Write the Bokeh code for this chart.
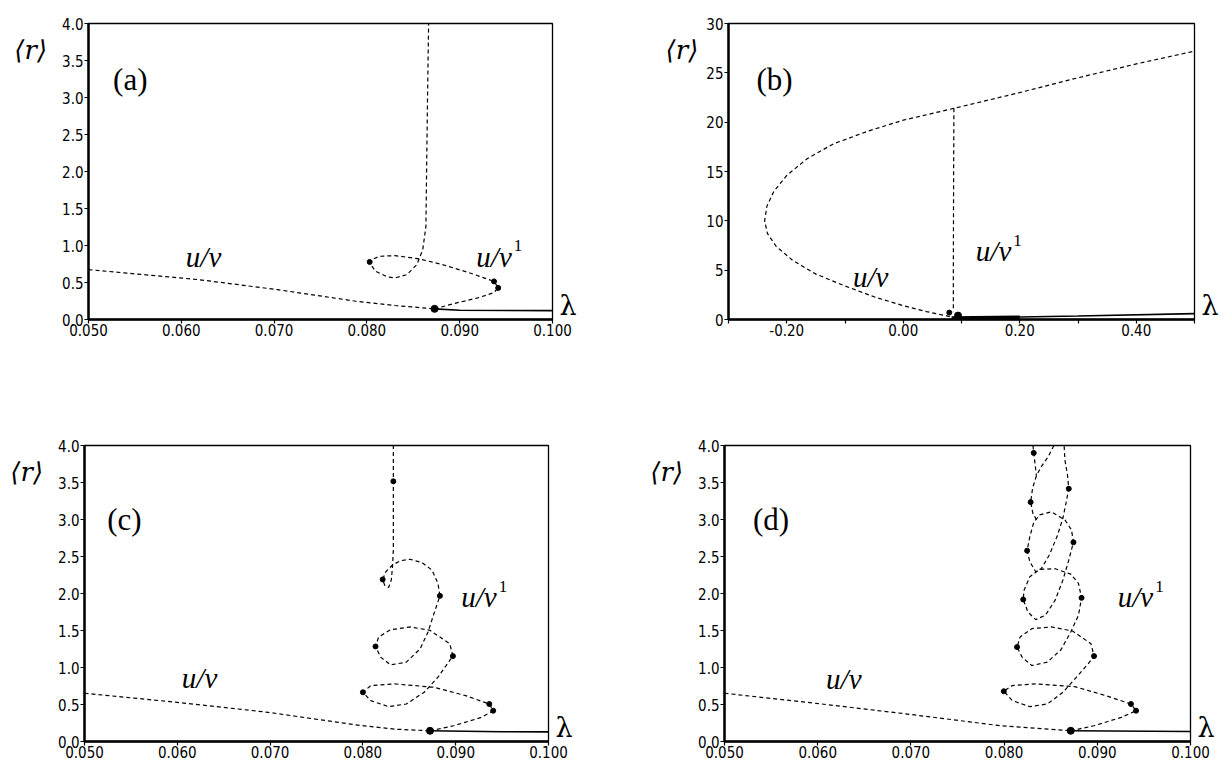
from bokeh.plotting import figure
from bokeh.layouts import column, row
from bokeh.models import Range1d, FixedTicker, PrintfTickFormatter, Label, LinearAxis
from bokeh.embed import file_html
from bokeh.resources import INLINE

# ---------------- data ----------------
# panel (a)
a_uv_lam = [0.05, 0.06186, 0.07034, 0.07881, 0.08305, 0.08729]
a_uv_r = [0.674, 0.539, 0.404, 0.247, 0.189, 0.144]
a_uv1_lam = [0.08729, 0.08941, 0.09195, 0.09364, 0.09415, 0.0937, 0.0911, 0.08814, 0.08568,
             0.08305, 0.08136, 0.08051, 0.0803, 0.08093, 0.0822, 0.08305, 0.08432, 0.08538,
             0.08602, 0.08636, 0.08644, 0.08653, 0.08665]
a_uv1_r = [0.144, 0.216, 0.292, 0.360, 0.427, 0.515, 0.629, 0.742, 0.818,
           0.863, 0.854, 0.809, 0.764, 0.652, 0.575, 0.562, 0.607, 0.742,
           0.944, 1.258, 2.067, 2.966, 4.0]
a_solid_lam = [0.08729, 0.0900, 0.1]
a_solid_r = [0.144, 0.125, 0.12]
a_pts_lam = [0.08729, 0.0937, 0.09415, 0.0803]
a_pts_r = [0.144, 0.515, 0.427, 0.778]

# panel (b)
b_uv_lam = [0.08, 0.04, 0.0, -0.05, -0.1, -0.15, -0.19, -0.218, -0.233, -0.238, -0.234,
            -0.222, -0.2, -0.165, -0.12, -0.06, 0.0, 0.087, 0.2, 0.3, 0.4, 0.5]
b_uv_r = [0.3, 0.8, 1.4, 2.3, 3.4, 4.6, 6.0, 7.4, 8.7, 10.0, 11.5,
          13.0, 14.6, 16.3, 17.8, 19.1, 20.2, 21.4, 23.0, 24.5, 25.9, 27.2]
b_uv1_lam = [0.087, 0.0865, 0.086, 0.086]
b_uv1_r = [21.4, 15.0, 5.0, 0.8]
b_solid_lam = [0.087, 0.2, 0.3, 0.5]
b_solid_r = [0.15, 0.25, 0.35, 0.6]
b_thick_lam = [0.083, 0.2]
b_thick_r = [0.15, 0.22]
b_pts_lam = [0.079, 0.094]
b_pts_r = [0.7, 0.4]

# panel (c)
c_uv_lam = [0.05, 0.06, 0.0698, 0.07915, 0.0834, 0.08723]
c_uv_r = [0.652, 0.529, 0.394, 0.226, 0.167, 0.145]
c_uv1_lam = [0.08723, 0.08979, 0.09277, 0.09404, 0.09362, 0.09106, 0.08766, 0.08340, 0.08085,
             0.08000, 0.08085, 0.08277, 0.08468, 0.08660, 0.08809, 0.08936, 0.08970, 0.08936,
             0.08723, 0.08511, 0.08298, 0.08170, 0.08136, 0.08191, 0.08298, 0.08468, 0.08617,
             0.08702, 0.08766, 0.08830, 0.08809, 0.08745, 0.08638, 0.08511, 0.08404, 0.08319,
             0.08247, 0.08213, 0.08234, 0.08277, 0.08306, 0.08319, 0.08328, 0.08328, 0.08328,
             0.08328]
c_uv1_r = [0.145, 0.213, 0.326, 0.416, 0.507, 0.620, 0.733, 0.778, 0.756,
           0.665, 0.552, 0.471, 0.507, 0.665, 0.869, 1.095, 1.154, 1.321,
           1.502, 1.548, 1.511, 1.412, 1.285, 1.140, 1.036, 1.072, 1.253,
           1.480, 1.729, 1.968, 2.136, 2.317, 2.416, 2.462, 2.443, 2.385,
           2.294, 2.190, 2.113, 2.081, 2.181, 2.362, 2.588, 3.222, 3.516,
           4.0]
c_solid_lam = [0.08723, 0.0949, 0.1]
c_solid_r = [0.145, 0.131, 0.13]
c_pts_lam = [0.08723, 0.09404, 0.09362, 0.08000, 0.08970, 0.08136, 0.08830, 0.08213, 0.08328]
c_pts_r = [0.145, 0.416, 0.507, 0.665, 1.154, 1.285, 1.968, 2.190, 3.516]

# panel (d)
d_uv_lam = [0.05, 0.06043, 0.06962, 0.07963, 0.08715]
d_uv_r = [0.652, 0.507, 0.371, 0.213, 0.145]
d_uv1_lam = [0.08715, 0.08965, 0.09257, 0.09416, 0.09361, 0.0909, 0.08756, 0.08339, 0.08088,
             0.07997, 0.08088, 0.08276, 0.08464, 0.08631, 0.08777, 0.08902, 0.08965, 0.08932,
             0.08735, 0.08506, 0.08297, 0.08172, 0.08139, 0.08193, 0.08297, 0.08464, 0.0861,
             0.08715, 0.08798, 0.08831, 0.08798, 0.08715, 0.08548, 0.08381, 0.08276, 0.08214,
             0.08205, 0.08255, 0.08339, 0.08443, 0.08548, 0.08631, 0.08694, 0.08744, 0.08723,
             0.08652, 0.08506, 0.08381, 0.08318, 0.08276, 0.08247, 0.08276, 0.08339, 0.08401,
             0.08485, 0.08568, 0.08631, 0.08664, 0.08694, 0.08681, 0.08652, 0.08644]
d_uv1_r = [0.145, 0.213, 0.326, 0.416, 0.507, 0.620, 0.742, 0.778, 0.756,
           0.679, 0.552, 0.471, 0.507, 0.665, 0.869, 1.050, 1.154, 1.321,
           1.493, 1.548, 1.525, 1.412, 1.276, 1.140, 1.027, 1.072, 1.240,
           1.480, 1.706, 1.941, 2.136, 2.262, 2.335, 2.326, 2.226, 2.045,
           1.919, 1.751, 1.647, 1.706, 1.910, 2.181, 2.452, 2.692, 2.860,
           2.995, 3.104, 3.063, 2.959, 2.769, 2.579, 2.430, 2.294, 2.339,
           2.520, 2.769, 3.018, 3.222, 3.416, 3.593, 3.810, 4.0]
d_top1_lam = [0.08535, 0.08472, 0.08401, 0.08347, 0.08306, 0.08285, 0.0831, 0.0836]
d_top1_r = [4.0, 3.846, 3.719, 3.593, 3.425, 3.235, 3.077, 2.973]
d_top2_lam = [0.0831, 0.08318, 0.08347]
d_top2_r = [4.0, 3.9, 3.593]
d_solid_lam = [0.08715, 0.1]
d_solid_r = [0.145, 0.136]
d_pts_lam = [0.08715, 0.09416, 0.09361, 0.07997, 0.08965, 0.08139, 0.08831, 0.08205,
             0.08744, 0.08247, 0.08694, 0.08285, 0.08318]
d_pts_r = [0.145, 0.416, 0.507, 0.679, 1.154, 1.276, 1.941, 1.919,
           2.692, 2.579, 3.416, 3.235, 3.9]

# ticks
small_xticks = [0.05, 0.06, 0.07, 0.08, 0.09, 0.10]
small_yticks = [0.0, 0.5, 1.0, 1.5, 2.0, 2.5, 3.0, 3.5, 4.0]
b_xticks = [-0.2, 0.0, 0.2, 0.4]
b_xminor = [-0.3, -0.1, 0.1, 0.3, 0.5]
b_yticks = [0, 5, 10, 15, 20, 25, 30]

TICK_FONT = "DejaVu Sans Condensed"
SERIF = "Liberation Serif"
MATH = "DejaVu Serif"
DASH = "4 3"


def make_panel(width, height, left, right, top, bottom, xr, yr, xticks, yticks,
               xfmt, yfmt, xminor=None, r_standoff=12):
    p = figure(width=width, height=height, x_range=Range1d(*xr), y_range=Range1d(*yr),
               output_backend="svg", toolbar_location=None,
               min_border_left=left, min_border_right=right,
               min_border_top=top, min_border_bottom=bottom)
    p.grid.visible = False
    p.outline_line_color = "black"
    p.outline_line_width = 1.3
    p.background_fill_color = "white"
    p.border_fill_color = "white"
    p.xaxis.ticker = FixedTicker(ticks=xticks, minor_ticks=xminor or [])
    p.yaxis.ticker = FixedTicker(ticks=yticks)
    p.xaxis.formatter = PrintfTickFormatter(format=xfmt)
    p.yaxis.formatter = PrintfTickFormatter(format=yfmt)
    for ax in (p.xaxis, p.yaxis):
        ax.axis_line_width = 2.5
        ax.axis_line_color = "black"
        ax.major_tick_line_color = "black"
        ax.major_tick_line_width = 1.2
        ax.major_tick_in = 0
        ax.major_tick_out = 4
        ax.minor_tick_line_color = "black" if xminor else None
        ax.minor_tick_line_width = 1.2
        ax.minor_tick_in = 0
        ax.minor_tick_out = 4
        ax.major_label_text_font = TICK_FONT
        ax.major_label_text_font_size = "15px"
        ax.major_label_text_color = "black"
    p.xaxis.major_label_standoff = 0
    p.yaxis.major_label_standoff = 1
    p.yaxis.minor_tick_line_color = None
    # axis quantity names: <r> near the top of the left axis, lambda at the right end
    p.yaxis.axis_label = "\n\u27e8r\u27e9"
    p.yaxis.axis_label_orientation = "horizontal"
    p.yaxis.axis_label_align = "end"
    p.yaxis.axis_label_standoff = r_standoff
    p.yaxis.axis_label_text_font = MATH
    p.yaxis.axis_label_text_font_style = "italic"
    p.yaxis.axis_label_text_font_size = "26px"
    p.yaxis.axis_label_text_line_height = 1.75
    p.yaxis.axis_label_text_color = "black"
    lam = LinearAxis(ticker=FixedTicker(ticks=[]), axis_label="\u03bb\n",
                     axis_label_orientation="horizontal", axis_label_align="start",
                     axis_label_standoff=7, axis_line_color=None,
                     major_tick_line_color=None, minor_tick_line_color=None,
                     major_tick_out=0, major_tick_in=0, minor_tick_out=0, minor_tick_in=0,
                     major_label_standoff=0,
                     axis_label_text_font=MATH, axis_label_text_font_style="normal",
                     axis_label_text_font_size="27px", axis_label_text_line_height=0.9,
                     axis_label_text_color="black")
    p.add_layout(lam, "right")
    return p


def add_labels(p, letter, letter_xy, uv_xy, uv1_xy):
    p.add_layout(Label(x=letter_xy[0], y=letter_xy[1], text=letter, text_font=SERIF,
                       text_font_size="31px", text_align="center", text_baseline="middle",
                       text_color="black"))
    for xy in (uv_xy, uv1_xy):
        p.add_layout(Label(x=xy[0], y=xy[1], text="u/v", text_font=SERIF,
                           text_font_style="italic", text_font_size="29px",
                           text_align="center", text_baseline="middle", text_color="black"))
    p.add_layout(Label(x=uv1_xy[0], y=uv1_xy[1], text="1", text_font=SERIF,
                       text_font_size="17px", text_align="center", text_baseline="middle",
                       x_offset=24, y_offset=11, text_color="black"))


def small_panel(p, uv, uv1, solid, pts, extra=()):
    p.line(uv[0], uv[1], line_color="black", line_width=1.2, line_dash=DASH)
    p.line(uv1[0], uv1[1], line_color="black", line_width=1.2, line_dash=DASH)
    for ex in extra:
        p.line(ex[0], ex[1], line_color="black", line_width=1.2, line_dash=DASH)
    p.line(solid[0], solid[1], line_color="black", line_width=1.6)
    p.scatter(pts[0][:1], pts[1][:1], size=7, color="black")
    p.scatter(pts[0][1:], pts[1][1:], size=5, color="black")


# panel (a): frame 88..552 x 23..319
pa = make_panel(608, 368, 88, 56, 23, 49, (0.05, 0.10), (0.0, 4.0),
                small_xticks, small_yticks, "%.3f", "%.1f")
small_panel(pa, (a_uv_lam, a_uv_r), (a_uv1_lam, a_uv1_r), (a_solid_lam, a_solid_r),
            (a_pts_lam, a_pts_r))
add_labels(pa, "(a)", (0.0545, 3.25), (0.0624, 0.85), (0.0937, 0.85))

# panel (b): frame 728..1194 x 23..319
pb = make_panel(617, 368, 120, 31, 23, 49, (-0.3, 0.5), (0.0, 30.0),
                b_xticks, b_yticks, "%.2f", "%d", xminor=b_xminor, r_standoff=5)
pb.line(b_uv_lam, b_uv_r, line_color="black", line_width=1.2, line_dash=DASH)
pb.line(b_uv1_lam, b_uv1_r, line_color="black", line_width=1.2, line_dash=DASH)
pb.line(b_solid_lam, b_solid_r, line_color="black", line_width=1.6)
pb.line(b_thick_lam, b_thick_r, line_color="black", line_width=3.5)
pb.scatter(b_pts_lam[:1], b_pts_r[:1], size=5, color="black")
pb.scatter(b_pts_lam[1:], b_pts_r[1:], size=7, color="black")
add_labels(pb, "(b)", (-0.221, 24.3), (-0.056, 4.3), (0.155, 6.9))

# panel (c): frame 84..548 x 445..741
pc = make_panel(608, 399, 84, 60, 77, 26, (0.05, 0.10), (0.0, 4.0),
                small_xticks, small_yticks, "%.3f", "%.1f")
small_panel(pc, (c_uv_lam, c_uv_r), (c_uv1_lam, c_uv1_r), (c_solid_lam, c_solid_r),
            (c_pts_lam, c_pts_r))
add_labels(pc, "(c)", (0.0543, 3.0), (0.0624, 0.86), (0.0925, 1.95))

# panel (d): frame 724..1190 x 445..741
pd = make_panel(617, 399, 116, 35, 77, 26, (0.05, 0.10), (0.0, 4.0),
                small_xticks, small_yticks, "%.3f", "%.1f")
small_panel(pd, (d_uv_lam, d_uv_r), (d_uv1_lam, d_uv1_r), (d_solid_lam, d_solid_r),
            (d_pts_lam, d_pts_r),
            extra=((d_top1_lam, d_top1_r), (d_top2_lam, d_top2_r)))
add_labels(pd, "(d)", (0.0550, 3.0), (0.0628, 0.84), (0.0941, 1.95))

layout = column(row(pa, pb, spacing=0), row(pc, pd, spacing=0), spacing=0)
open("out.html", "w").write(file_html(layout, INLINE))
